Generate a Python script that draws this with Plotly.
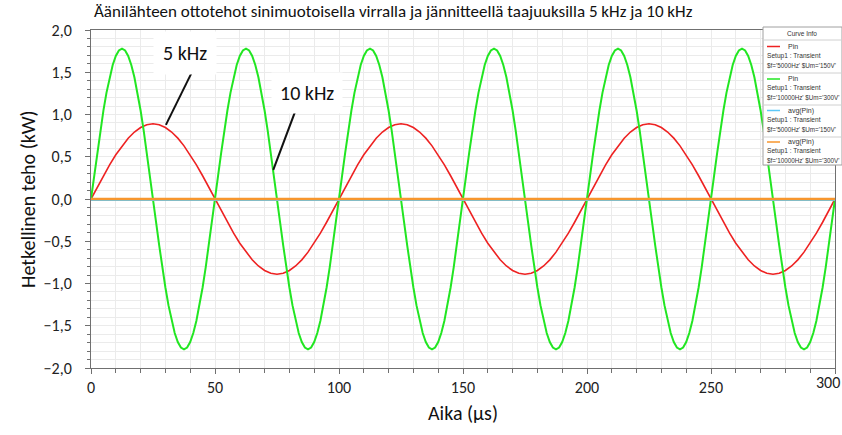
import numpy as np
import plotly.graph_objects as go

# ---------------- data ----------------
# time grids (µs)
t_5k = np.arange(0, 300.001, 2.5)
t_10k = np.arange(0, 300.001, 1.25)

# instantaneous input power, 5 kHz (kW)
p_5k = [
    0.000, 0.139, 0.275, 0.404, 0.523, 0.629, 0.720, 0.793, 0.846, 0.879,
    0.890, 0.879, 0.846, 0.793, 0.720, 0.629, 0.523, 0.404, 0.275, 0.139,
    0.000, -0.139, -0.275, -0.404, -0.523, -0.629, -0.720, -0.793, -0.846, -0.879,
    -0.890, -0.879, -0.846, -0.793, -0.720, -0.629, -0.523, -0.404, -0.275, -0.139,
    0.000, 0.139, 0.275, 0.404, 0.523, 0.629, 0.720, 0.793, 0.846, 0.879,
    0.890, 0.879, 0.846, 0.793, 0.720, 0.629, 0.523, 0.404, 0.275, 0.139,
    0.000, -0.139, -0.275, -0.404, -0.523, -0.629, -0.720, -0.793, -0.846, -0.879,
    -0.890, -0.879, -0.846, -0.793, -0.720, -0.629, -0.523, -0.404, -0.275, -0.139,
    0.000, 0.139, 0.275, 0.404, 0.523, 0.629, 0.720, 0.793, 0.846, 0.879,
    0.890, 0.879, 0.846, 0.793, 0.720, 0.629, 0.523, 0.404, 0.275, 0.139,
    0.000, -0.139, -0.275, -0.404, -0.523, -0.629, -0.720, -0.793, -0.846, -0.879,
    -0.890, -0.879, -0.846, -0.793, -0.720, -0.629, -0.523, -0.404, -0.275, -0.139,
    0.000,
]

# instantaneous input power, 10 kHz (kW)
p_10k = [
    0.000, 0.278, 0.550, 0.808, 1.047, 1.259, 1.440, 1.586, 1.693, 1.758,
    1.780, 1.758, 1.693, 1.586, 1.440, 1.259, 1.047, 0.808, 0.550, 0.278,
    0.000, -0.278, -0.550, -0.808, -1.047, -1.259, -1.440, -1.586, -1.693, -1.758,
    -1.780, -1.758, -1.693, -1.586, -1.440, -1.259, -1.047, -0.808, -0.550, -0.278,
    0.000, 0.278, 0.550, 0.808, 1.047, 1.259, 1.440, 1.586, 1.693, 1.758,
    1.780, 1.758, 1.693, 1.586, 1.440, 1.259, 1.047, 0.808, 0.550, 0.278,
    0.000, -0.278, -0.550, -0.808, -1.047, -1.259, -1.440, -1.586, -1.693, -1.758,
    -1.780, -1.758, -1.693, -1.586, -1.440, -1.259, -1.047, -0.808, -0.550, -0.278,
    0.000, 0.278, 0.550, 0.808, 1.047, 1.259, 1.440, 1.586, 1.693, 1.758,
    1.780, 1.758, 1.693, 1.586, 1.440, 1.259, 1.047, 0.808, 0.550, 0.278,
    0.000, -0.278, -0.550, -0.808, -1.047, -1.259, -1.440, -1.586, -1.693, -1.758,
    -1.780, -1.758, -1.693, -1.586, -1.440, -1.259, -1.047, -0.808, -0.550, -0.278,
    0.000, 0.278, 0.550, 0.808, 1.047, 1.259, 1.440, 1.586, 1.693, 1.758,
    1.780, 1.758, 1.693, 1.586, 1.440, 1.259, 1.047, 0.808, 0.550, 0.278,
    0.000, -0.278, -0.550, -0.808, -1.047, -1.259, -1.440, -1.586, -1.693, -1.758,
    -1.780, -1.758, -1.693, -1.586, -1.440, -1.259, -1.047, -0.808, -0.550, -0.278,
    0.000, 0.278, 0.550, 0.808, 1.047, 1.259, 1.440, 1.586, 1.693, 1.758,
    1.780, 1.758, 1.693, 1.586, 1.440, 1.259, 1.047, 0.808, 0.550, 0.278,
    0.000, -0.278, -0.550, -0.808, -1.047, -1.259, -1.440, -1.586, -1.693, -1.758,
    -1.780, -1.758, -1.693, -1.586, -1.440, -1.259, -1.047, -0.808, -0.550, -0.278,
    0.000, 0.278, 0.550, 0.808, 1.047, 1.259, 1.440, 1.586, 1.693, 1.758,
    1.780, 1.758, 1.693, 1.586, 1.440, 1.259, 1.047, 0.808, 0.550, 0.278,
    0.000, -0.278, -0.550, -0.808, -1.047, -1.259, -1.440, -1.586, -1.693, -1.758,
    -1.780, -1.758, -1.693, -1.586, -1.440, -1.259, -1.047, -0.808, -0.550, -0.278,
    0.000,
]

# averages
avg_t = [0, 300]
avg_5k = [-0.012, -0.012]
avg_10k = [0.0, 0.0]

x_tickvals = [0, 50, 100, 150, 200, 250, 300]
x_ticktext = ["0", "50", "100", "150", "200", "250", ""]   # "300" drawn separately (edge)

title_text = "Äänilähteen ottotehot sinimuotoisella virralla ja jännitteellä taajuuksilla 5 kHz ja 10 kHz"
x_title = "Aika (µs)"
y_title = "Hetkellinen teho (kW)"

legend_names = ["Pin", "Pin", "avg(Pin)", "avg(Pin)"]
legend_setup = ["Setup1 : Transient"] * 4
legend_params = ["$f='5000Hz' $Um='150V'", "$f='10000Hz' $Um='300V'",
                 "$f='5000Hz' $Um='150V'", "$f='10000Hz' $Um='300V'"]

# ---------------- style / layout ----------------
W, H = 842, 435
ML, MR, MT, MB = 91, 7, 30, 67
PW, PH = W - ML - MR, H - MT - MB

def px(x):
    return (x - ML) / PW

def py(y):
    return (H - MB - y) / PH

C_RED = "#ee2222"
C_GREEN = "#22e622"
C_BLUE = "#5ec8f8"
C_ORANGE = "#f7962e"
FONT = "Carlito, Lato, sans-serif"
SMALL = "Liberation Sans, Arial, sans-serif"
TICKFONT = dict(family=FONT, size=16, color="#222222")

fig = go.Figure()
fig.add_trace(go.Scatter(x=t_5k, y=p_5k, mode="lines", line=dict(color=C_RED, width=1.6)))
fig.add_trace(go.Scatter(x=t_10k, y=p_10k, mode="lines", line=dict(color=C_GREEN, width=2)))
fig.add_trace(go.Scatter(x=avg_t, y=avg_5k, mode="lines", line=dict(color=C_BLUE, width=2)))
fig.add_trace(go.Scatter(x=avg_t, y=avg_10k, mode="lines", line=dict(color=C_ORANGE, width=2.5)))

axis_common = dict(
    showline=True, linecolor="#707070", linewidth=1, mirror=True,
    showgrid=True, gridcolor="#ebebeb", gridwidth=1,
    zeroline=False,
    ticks="outside", tickcolor="#707070", ticklen=5,
    tickfont=TICKFONT,
)

fig.update_xaxes(
    range=[0, 300], tickmode="array", tickvals=x_tickvals, ticktext=x_ticktext,
    minor=dict(dtick=10, tick0=0, ticks="outside", ticklen=4, tickcolor="#707070",
               showgrid=True, gridcolor="#ebebeb"),
    **axis_common,
)
fig.update_yaxes(
    range=[-2, 2], tick0=0, dtick=0.5, tickformat=".1f",
    ticklabelstandoff=10,
    minor=dict(dtick=0.1, ticks="outside", ticklen=3, tickcolor="#707070",
               showgrid=True, gridcolor="#ebebeb"),
    **axis_common,
)

annotations = [
    dict(text=title_text, xref="paper", yref="paper", x=px(92), y=py(12),
         xanchor="left", yanchor="middle", showarrow=False,
         font=dict(family=FONT, size=17, color="#111111")),
    dict(text=x_title, xref="paper", yref="paper", x=px(463), y=py(413),
         xanchor="center", yanchor="middle", showarrow=False,
         font=dict(family=FONT, size=20, color="#111111")),
    dict(text=y_title, xref="paper", yref="paper", x=px(28), y=py(199),
         xanchor="center", yanchor="middle", showarrow=False, textangle=-90,
         font=dict(family=FONT, size=20, color="#111111")),
    dict(text="300", xref="paper", yref="paper", x=px(842), y=py(383),
         xanchor="right", yanchor="middle", showarrow=False,
         font=TICKFONT),
    dict(text="5 kHz", xref="x", yref="y", x=37.8, y=1.73, showarrow=False,
         xanchor="center", yanchor="middle", bgcolor="white", borderpad=9,
         font=dict(family=FONT, size=20, color="#111111")),
    dict(text="10 kHz", xref="x", yref="y", x=87.1, y=1.25, showarrow=False,
         xanchor="center", yanchor="middle", bgcolor="white", borderpad=8,
         font=dict(family=FONT, size=20, color="#111111")),
]

shapes = [
    dict(type="line", xref="x", yref="y", x0=40.6, y0=1.496, x1=30.2, y1=0.877,
         line=dict(color="#111111", width=2), layer="above"),
    dict(type="line", xref="x", yref="y", x0=82.3, y0=1.034, x1=73.5, y1=0.344,
         line=dict(color="#111111", width=2), layer="above"),
]

# Curve Info box
box_l, box_r, box_t, box_b = 763, 842, 27, 165
shapes.append(dict(type="rect", xref="paper", yref="paper",
                   x0=px(box_l), x1=px(box_r), y0=py(box_b), y1=py(box_t),
                   fillcolor="white", line=dict(color="#a0a0a0", width=1), layer="above"))
for sy in [40, 73, 105, 137]:
    shapes.append(dict(type="line", xref="paper", yref="paper",
                       x0=px(box_l), x1=px(box_r), y0=py(sy), y1=py(sy),
                       line=dict(color="#d0d0d0", width=1), layer="above"))
annotations.append(dict(text="Curve Info", xref="paper", yref="paper",
                        x=px(802), y=py(34), showarrow=False,
                        xanchor="center", yanchor="middle",
                        font=dict(family=SMALL, size=6.5, color="#333333")))
colors = [C_RED, C_GREEN, C_BLUE, C_ORANGE]
entry_y = [46.5, 79, 110.5, 142]
for i in range(4):
    ey = entry_y[i]
    shapes.append(dict(type="line", xref="paper", yref="paper",
                       x0=px(767), x1=px(780), y0=py(ey), y1=py(ey),
                       line=dict(color=colors[i], width=1.5), layer="above"))
    annotations.append(dict(text=legend_names[i], xref="paper", yref="paper",
                            x=px(786), y=py(ey), showarrow=False,
                            xanchor="left", yanchor="middle",
                            font=dict(family=SMALL, size=7, color="#333333")))
    annotations.append(dict(text=legend_setup[i], xref="paper", yref="paper",
                            x=px(765), y=py(ey + 9.3), showarrow=False,
                            xanchor="left", yanchor="middle",
                            font=dict(family=SMALL, size=6.6, color="#333333")))
    annotations.append(dict(text=legend_params[i], xref="paper", yref="paper",
                            x=px(765), y=py(ey + 18.5), showarrow=False,
                            xanchor="left", yanchor="middle",
                            font=dict(family=SMALL, size=6.3, color="#333333")))

fig.update_layout(
    width=W, height=H,
    margin=dict(l=ML, r=MR, t=MT, b=MB, pad=0),
    paper_bgcolor="white", plot_bgcolor="white",
    showlegend=False,
    separators=",.",
    annotations=annotations,
    shapes=shapes,
)

fig.write_html("out.html")
